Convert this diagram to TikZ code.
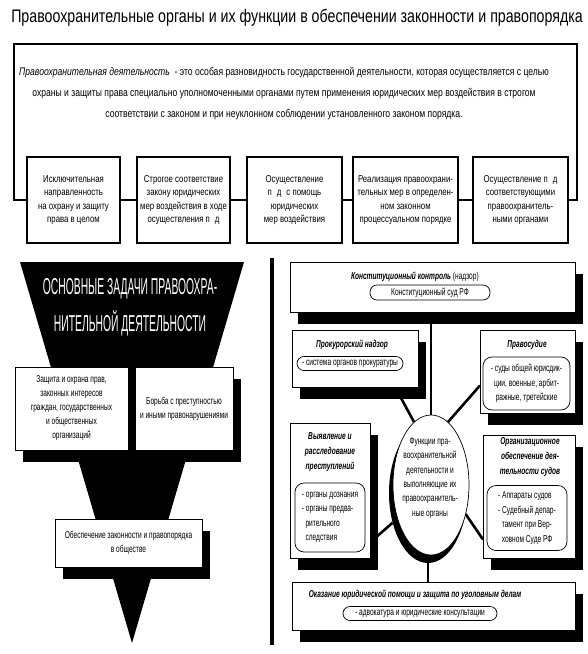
\documentclass[tikz,border=0pt]{standalone}
\usepackage{fontspec}
\setmainfont{Liberation Sans}
\newfontfamily\fn[FakeStretch=0.78]{Liberation Sans}
\newfontfamily\fr[FakeStretch=0.66]{Liberation Sans}
\newfontfamily\fc[FakeStretch=0.45]{Liberation Sans}
\usetikzlibrary{shadows,shapes.geometric}
\pgfdeclarelayer{bg}
\pgfsetlayers{bg,main}
\begin{document}
\begin{tikzpicture}[x=1pt,y=-1pt,
  every node/.style={inner sep=0pt,outer sep=0pt},
  topbox/.style={draw,line width=1.1pt,fill=white,minimum height=86pt,align=center,font=\fn\fontsize{10}{13.5}\selectfont},
  shbox/.style={draw,line width=0.7pt,fill=white,align=center,
     drop shadow={shadow xshift=8pt,shadow yshift=-12pt,fill=black,opacity=1}},
  lefttxt/.style={align=center,font=\fr\fontsize{10}{14}\selectfont},
  rtitle/.style={align=center,font=\fr\fontsize{10}{15}\selectfont\bfseries\itshape},
  pill/.style={draw,line width=0.7pt,fill=white,rounded corners=7pt,font=\fr\fontsize{10}{14.5}\selectfont},
  conn/.style={line width=2.6pt},
  frame/.style={line width=1.1pt}
]
\useasboundingbox (0,0) rectangle (588,654);

% title
\node[font=\fn\fontsize{18.2}{20}\selectfont] (title) at (297,18)
  {Правоохранительные органы и их функции в обеспечении законности и правопорядка};

% definition text
\node[align=center,font=\fn\fontsize{11}{21}\selectfont] (def) at (284,94)
  {\textit{Правоохранительная деятельность} \ - это особая разновидность государственной деятельности, которая осуществляется с целью\\
   охраны и защиты права специально уполномоченными органами путем применения юридических мер воздействия в строгом\\
   соответствии с законом и при неуклонном соблюдении установленного законом порядка.};

% five boxes
\node[topbox,minimum width=93pt] (b1) at (73.5,200) {Исключительная\\направленность\\на охрану и защиту\\права в целом};
\node[topbox,minimum width=93pt] (b2) at (183.5,200) {Строгое соответствие\\закону юридических\\мер воздействия в ходе\\осуществления п\enspace д};
\node[topbox,minimum width=95pt] (b3) at (294.5,200) {Осуществление\\п\enspace д\enspace с помощь\\юридических\\мер воздействия};
\node[topbox,minimum width=105pt] (b4) at (405.5,200) {Реализация правоохрани-\\тельных мер в определен-\\ном законном\\процессуальном порядке};
\node[topbox,minimum width=95pt] (b5) at (520.5,200) {Осуществление п\enspace д\\соответствующими\\правоохранитель-\\ными органами};

\coordinate (tl) at (14,44);
\coordinate (tr) at (577,44);
\draw[frame] (b1.west) -| (tl) -- (tr) |- (b5.east);
\draw[frame] (b1.east) -- (b2.west);
\draw[frame] (b2.east) -- (b3.west);
\draw[frame] (b3.east) -- (b4.west);
\draw[frame] (b4.east) -- (b5.west);

% funnel
\coordinate (fa) at (20,262);
\coordinate (fb) at (244,262);
\coordinate (fc) at (132,643);
\fill (fa) -- (fb) -- (fc) -- cycle;
\node[align=center,text=white,font=\fc\fontsize{23}{37}\selectfont] (ftitle) at (130,307)
  {ОСНОВНЫЕ ЗАДАЧИ ПРАВООХРА-\\НИТЕЛЬНОЙ ДЕЯТЕЛЬНОСТИ};

\node[shbox,minimum width=113pt,minimum height=83pt,lefttxt] (la) at (71.5,408.5)
  {Защита и охрана прав,\\законных интересов\\граждан, государственных\\и общественных\\организаций};
\node[shbox,minimum width=98pt,minimum height=83pt,lefttxt] (lb) at (184,408.5)
  {Борьба с преступностью\\и иными правонарушениями};
\node[shbox,minimum width=147pt,minimum height=48pt,lefttxt] (lc) at (128.5,543)
  {Обеспечение законности и правопорядка\\в обществе};

% divider
\coordinate (d1) at (272,258);
\coordinate (d2) at (272,645);
\draw[line width=4.5pt] (d1) -- (d2);

% right panel boxes
\node[shbox,minimum width=285pt,minimum height=50pt] (K) at (432.5,287) {};
\node[shbox,minimum width=126pt,minimum height=57pt] (P) at (355,358.5) {};
\node[shbox,minimum width=95pt,minimum height=83pt] (J) at (527.5,371.5) {};
\node[shbox,minimum width=80pt,minimum height=135pt] (D) at (330,490.5) {};
\node[shbox,minimum width=92pt,minimum height=123pt] (O) at (529,496.5) {};
\node[shbox,minimum width=283pt,minimum height=48pt] (L) at (433.5,606) {};

% ellipse
\node[ellipse,fill=black,minimum width=78pt,minimum height=140pt] (ellsh) at (428,493) {};
\node[ellipse,draw,fill=white,line width=0.7pt,minimum width=76pt,minimum height=140pt] (ell) at (431,485) {};
\node[align=center,font=\fr\fontsize{10}{14.3}\selectfont] (elltxt) at (430,478)
  {Функции пра-\\воохранительной\\деятельности и\\выполняющие их\\правоохранитель-\\ные органы};

% connectors
\begin{pgfonlayer}{bg}
\draw[conn] (ell.north) -- (ell.north |- K.south);
\draw[conn] ([xshift=40pt]P.south) -- (ell.105);
\draw[conn] (ell.75) -- ([yshift=-14pt]J.west);
\draw[conn] ([yshift=-52pt]D.east) -- (ellsh.220);
\draw[conn] (ell.-40) -- ([yshift=-43pt]O.west);
\draw[conn] (ellsh.south) -- (ellsh.south |- L.north);
\end{pgfonlayer}

% right panel texts
\node[font=\fr\fontsize{10}{14}\selectfont] (Kt) at (415,277)
  {\textbf{\textit{Конституционный контроль}} (надзор)};
\node[pill,minimum width=120pt,minimum height=15pt] (Kp) at (430,292.5) {Конституционный суд РФ};

\node[rtitle] (Pt) at (352,345) {Прокурорский надзор};
\node[pill,minimum width=106pt,minimum height=14pt] (Pp) at (350,363.5) {- система органов прокуратуры};

\node[rtitle] (Jt) at (527,345) {Правосудие};
\node[pill,minimum width=87pt,minimum height=53pt,align=center,rounded corners=9pt] (Jp) at (526.5,383.5)
  {- суды общей юрисдик-\\ции, военные, арбит-\\ражные, третейские};

\node[rtitle] (Dt) at (330,452) {Выявление и\\расследование\\преступлений};
\node[pill,minimum width=70pt,minimum height=69pt,align=left,rounded corners=9pt] (Dp) at (330,517.5)
  {- органы дознания\\- органы предва-\\\ \ рительного\\\ \ следствия};

\node[rtitle] (Ot) at (530,457.5) {Организационное\\обеспечение дея-\\тельности судов};
\node[pill,minimum width=80pt,minimum height=65pt,align=left,rounded corners=9pt] (Op) at (527,518)
  {- Аппараты судов\\- Судебный депар-\\\ \ тамент при Вер-\\\ \ ховном Суде РФ};

\node[rtitle] (Lt) at (415,595) {Оказание юридической помощи и защита по уголовным делам};
\node[pill,minimum width=154pt,minimum height=14pt] (Lp) at (420,613.5) {- адвокатура и юридические консультации};
\end{tikzpicture}
\end{document}
